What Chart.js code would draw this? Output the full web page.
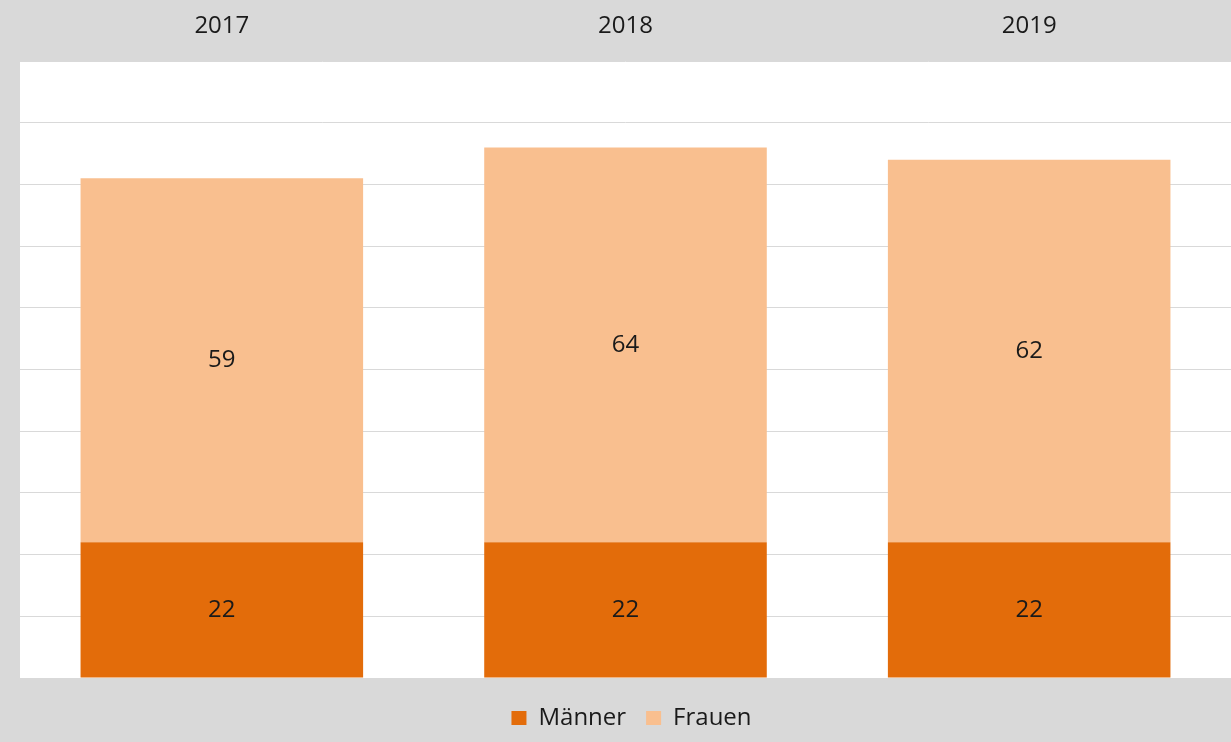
<!DOCTYPE html>
<html>
<head>
<meta charset="utf-8">
<script src="https://cdn.jsdelivr.net/npm/chart.js@4/dist/chart.umd.min.js"></script>
<style>
  html, body { margin: 0; padding: 0; background: #d9d9d9; }
  #chart { display: block; }
</style>
</head>
<body>
<canvas id="chart" width="1231" height="742"></canvas>
<script>
const years = ['2017', '2018', '2019'];
const maenner = [22, 22, 22];
const frauen = [59, 64, 62];
const yTicks = { min: 0, max: 100, step: 10 };

const FONT = '"Open Sans", "Liberation Sans", sans-serif';

// white plot background
const plotBg = {
  id: 'plotBg',
  beforeDraw(chart) {
    const { ctx, chartArea: a } = chart;
    ctx.save();
    ctx.fillStyle = '#ffffff';
    ctx.fillRect(a.left, a.top, a.right - a.left, a.bottom - a.top);
    ctx.restore();
  }
};

// legend strip: fixed height, items nudged to sit like the original
const legendBox = {
  id: 'legendBox',
  afterInit(chart) {
    const lg = chart.legend;
    if (!lg) return;
    const fit = lg.fit;
    lg.fit = function () { fit.call(this); this.height = 64; };
    const draw = lg.draw;
    lg.draw = function () {
      const c = this.ctx;
      c.save();
      c.translate(16, 8);
      draw.call(this);
      c.restore();
    };
  }
};

// value labels in the middle of each segment
const segLabels = {
  id: 'segLabels',
  afterDatasetsDraw(chart) {
    const { ctx } = chart;
    ctx.save();
    ctx.font = '24px ' + FONT;
    ctx.fillStyle = '#1a1a1a';
    ctx.textAlign = 'center';
    ctx.textBaseline = 'middle';
    chart.data.datasets.forEach((ds, i) => {
      chart.getDatasetMeta(i).data.forEach((bar, j) => {
        ctx.fillText(String(ds.data[j]), bar.x, (bar.y + bar.base) / 2);
      });
    });
    ctx.restore();
  }
};

new Chart(document.getElementById('chart'), {
  type: 'bar',
  data: {
    labels: years,
    datasets: [
      { label: 'Männer', data: maenner, backgroundColor: '#e36c0a' },
      { label: 'Frauen', data: frauen, backgroundColor: '#f9bf8f' }
    ]
  },
  options: {
    responsive: false,
    animation: false,
    devicePixelRatio: 1,
    layout: { padding: 0 },
    datasets: { bar: { categoryPercentage: 1, barPercentage: 0.7 } },
    scales: {
      x: {
        position: 'top',
        stacked: true,
        grid: { display: false, drawTicks: false },
        border: { display: false },
        ticks: { color: '#1a1a1a', font: { family: FONT, size: 24 }, padding: 20 },
        afterFit: (s) => { s.height = 61; }
      },
      y: {
        stacked: true,
        min: yTicks.min,
        max: yTicks.max,
        grid: { color: '#d9d9d9', drawTicks: false },
        border: { display: false },
        ticks: { display: false, stepSize: yTicks.step },
        afterFit: (s) => { s.width = 20; }
      }
    },
    plugins: {
      legend: {
        position: 'bottom',
        labels: {
          color: '#1a1a1a',
          font: { family: FONT, size: 24 },
          boxWidth: 15,
          boxHeight: 14,
          padding: 20
        }
      },
      tooltip: { enabled: false }
    }
  },
  plugins: [plotBg, legendBox, segLabels]
});
</script>
</body>
</html>
